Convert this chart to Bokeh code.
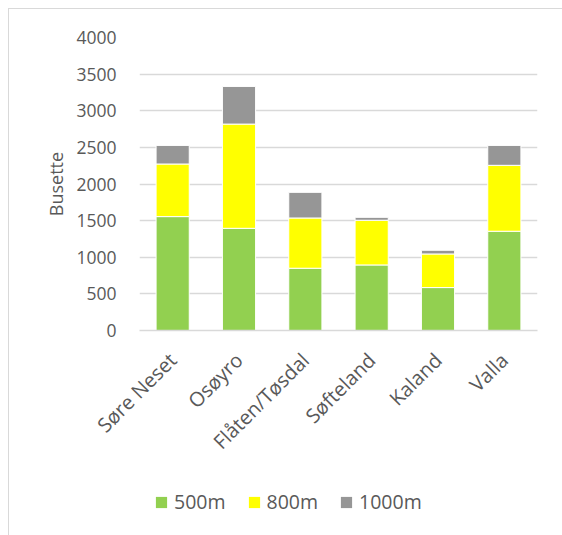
from math import pi
from bokeh.plotting import figure
from bokeh.layouts import column
from bokeh.models import FactorRange, Range1d, Legend, LegendItem, ColumnDataSource
from bokeh.embed import file_html
from bokeh.resources import INLINE

categories = ["Søre Neset", "Osøyro", "Flåten/Tøsdal", "Søfteland", "Kaland", "Valla"]
series = ["500m", "800m", "1000m"]
v500 = [1555, 1395, 850, 895, 586, 1355]
v800 = [718, 1423, 686, 610, 459, 900]
v1000 = [254, 514, 350, 40, 50, 272]
colors = ["#92D050", "#FFFF00", "#969696"]
y_ticks = [0, 500, 1000, 1500, 2000, 2500, 3000, 3500, 4000]
y_title = "Busette"

FONT = "Open Sans"
TXT = "#595959"
GRID = "#D9D9D9"

src = ColumnDataSource(dict(cat=categories, **{"500m": v500, "800m": v800, "1000m": v1000}))

p = figure(x_range=FactorRange(*categories, range_padding=0), y_range=Range1d(0, 4000),
           width=553, height=470, output_backend="svg", toolbar_location=None,
           min_border_left=130, min_border_right=25, min_border_top=28, min_border_bottom=149)

p.vbar_stack(series, x="cat", width=0.5, color=colors, source=src,
             line_color="white", line_width=1)

p.outline_line_color = None
p.xgrid.grid_line_color = None
p.ygrid.grid_line_color = GRID
p.ygrid.grid_line_width = 1.5
p.yaxis.ticker = y_ticks

p.yaxis.axis_line_color = None
p.yaxis.major_tick_line_color = None
p.yaxis.minor_tick_line_color = None
p.yaxis.major_tick_out = 0
p.yaxis.major_tick_in = 0
p.yaxis.minor_tick_out = 0
p.yaxis.major_label_standoff = 23
p.yaxis.major_label_text_font = FONT
p.yaxis.major_label_text_font_size = "17.5px"
p.yaxis.major_label_text_color = TXT
p.yaxis.axis_label = y_title
p.yaxis.axis_label_text_font = FONT
p.yaxis.axis_label_text_font_size = "18px"
p.yaxis.axis_label_text_font_style = "normal"
p.yaxis.axis_label_text_color = TXT
p.yaxis.axis_label_standoff = 5

p.xaxis.axis_line_color = GRID
p.xaxis.axis_line_width = 1.5
p.xaxis.major_tick_line_color = None
p.xaxis.minor_tick_line_color = None
p.xaxis.major_tick_out = 0
p.xaxis.major_tick_in = 0
p.xaxis.major_label_orientation = pi / 4
p.xaxis.major_label_standoff = 26
p.xaxis.major_label_text_font = FONT
p.xaxis.major_label_text_font_size = "20px"
p.xaxis.major_label_text_color = TXT

# legend strip below the chart (its frame is aligned with the chart's frame);
# its y range lies far above the data, so its bars stay out of view
p2 = figure(x_range=FactorRange(*categories), y_range=Range1d(1e6, 1e6 + 1),
            width=553, height=56, output_backend="svg", toolbar_location=None,
            x_axis_location=None, y_axis_location=None,
            min_border_left=0, min_border_right=0, min_border_top=0, min_border_bottom=0)
p2.outline_line_color = None
p2.grid.visible = False
lr = p2.vbar_stack(series, x="cat", width=0.5, color=colors, source=src, line_color=None)
legend = Legend(items=[LegendItem(label=s, renderers=[r]) for s, r in zip(series, lr)],
                orientation="horizontal", location=(15, 20), padding=0, margin=0,
                spacing=21, label_standoff=6, glyph_width=14, glyph_height=14,
                border_line_color=None, background_fill_alpha=0,
                label_text_font=FONT, label_text_font_size="19.5px", label_text_color=TXT)
p2.add_layout(legend, "center")

layout = column(p, p2, spacing=0)
layout.styles = {"margin-left": "8px", "margin-top": "8px",
                 "border-left": "1px solid #D9D9D9", "border-top": "1px solid #D9D9D9"}

open("out.html", "w").write(file_html(layout, INLINE))
